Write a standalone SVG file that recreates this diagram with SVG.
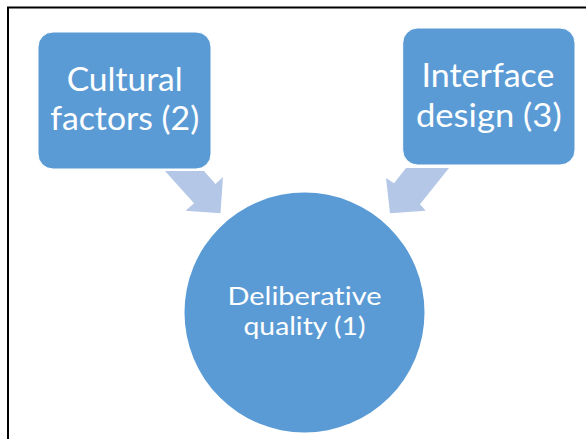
<svg xmlns="http://www.w3.org/2000/svg" width="586" height="439" viewBox="0 0 586 439">
  <style>
    .box { fill: #5B9BD5; stroke: #FFFFFF; stroke-width: 1; }
    .arrow { fill: #B4C7E7; }
    .label { fill: #FFFFFF; font-family: Lato, "Open Sans", sans-serif; text-anchor: middle; font-variant-ligatures: none; font-feature-settings: "liga" 0, "dlig" 0; }
    .big { font-size: 32.5px; }
    .mid { font-size: 25px; }
    .frame { stroke: #000000; stroke-width: 2; fill: none; }
  </style>
  <rect width="586" height="439" fill="#FFFFFF"/>
  <!-- page frame: top and left edges only -->
  <path class="frame" d="M8 439 V7.5 H586"/>

  <!-- block arrows feeding into the central circle -->
  <g id="connectors">
    <polygon class="arrow" points="165,171 204,171 215.5,184 223,177 220.5,213.3 185.5,210.8 194,203.3"/>
    <polygon class="arrow" points="406,168 449,168 420,204.3 425.7,210.7 390,213.3 386,178 394,183.3"/>
  </g>

  <g id="node-cultural">
    <rect class="box" x="38" y="32" width="173" height="137" rx="15" ry="15"/>
    <text class="label big" x="124.7" y="90.7" textLength="116" lengthAdjust="spacingAndGlyphs">Cultural</text>
    <text class="label big" x="124.7" y="129.5" textLength="149" lengthAdjust="spacingAndGlyphs">factors (2)</text>
  </g>

  <g id="node-interface">
    <rect class="box" x="402.7" y="28" width="172.3" height="137" rx="15" ry="15"/>
    <text class="label big" x="488" y="87.3" textLength="133" lengthAdjust="spacingAndGlyphs">Interface</text>
    <text class="label big" x="488.8" y="126.7" textLength="145.7" lengthAdjust="spacingAndGlyphs">design (3)</text>
  </g>

  <g id="node-deliberative">
    <circle cx="304.5" cy="312.5" r="120" fill="#5B9BD5"/>
    <text class="label mid" x="304.5" y="305" textLength="154" lengthAdjust="spacingAndGlyphs">Deliberative</text>
    <text class="label mid" x="304.5" y="335" textLength="122" lengthAdjust="spacingAndGlyphs">quality (1)</text>
  </g>
</svg>
